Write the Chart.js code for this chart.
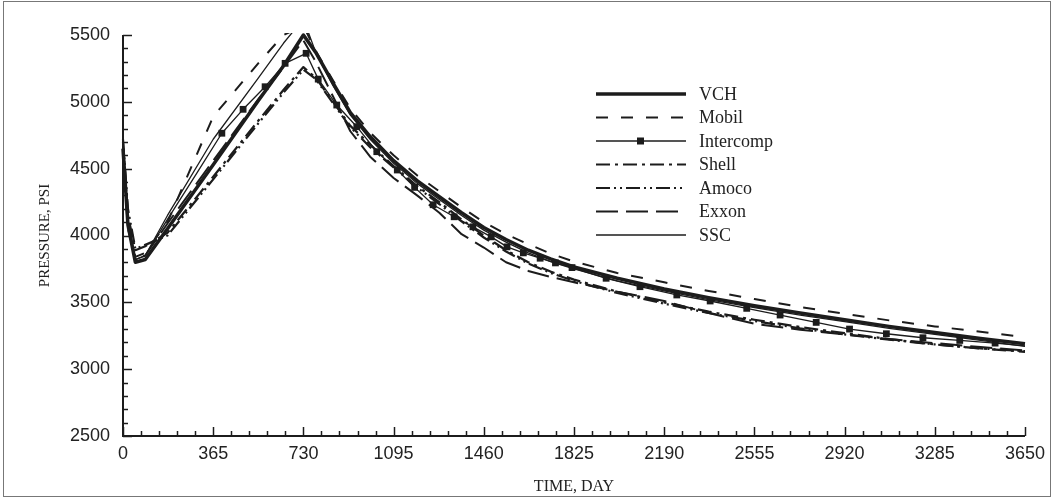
<!DOCTYPE html>
<html>
<head>
<meta charset="utf-8">
<title>Pressure vs time</title>
<script src="https://cdn.jsdelivr.net/npm/chart.js@4.4.1/dist/chart.umd.min.js"></script>
<style>
  html, body { margin: 0; padding: 0; background: #fff; }
</style>
</head>
<body>
<canvas id="chart" width="1054" height="500"></canvas>
<script>
// Pressure (psi), by day
const days = [0, 20, 50, 90, 180, 365, 548, 650, 730, 780, 850, 920, 1000, 1095, 1190, 1280, 1370, 1460, 1550, 1640, 1730, 1825, 2000, 2190, 2370, 2555, 2740, 2920, 3100, 3285, 3470, 3650];

const vch   = [4650, 4080, 3800, 3820, 4050, 4530, 5010, 5270, 5500, 5370, 5140, 4920, 4740, 4560, 4410, 4290, 4170, 4060, 3970, 3890, 3825, 3765, 3680, 3600, 3535, 3475, 3420, 3370, 3320, 3275, 3230, 3190];
const mobil = [4600, 4050, 3840, 3870, 4100, 4890, 5290, 5500, 5570, 5380, 5160, 4950, 4770, 4600, 4450, 4330, 4210, 4100, 4010, 3935, 3865, 3805, 3720, 3650, 3585, 3525, 3465, 3415, 3365, 3320, 3280, 3240];
const shell = [4700, 4150, 3890, 3920, 4020, 4440, 4860, 5090, 5260, 5180, 5000, 4820, 4680, 4520, 4370, 4250, 4120, 4000, 3890, 3800, 3730, 3670, 3580, 3500, 3430, 3370, 3315, 3270, 3225, 3185, 3155, 3130];
const amoco = [4720, 4200, 3900, 3930, 4000, 4420, 4840, 5070, 5240, 5170, 4990, 4810, 4660, 4510, 4360, 4235, 4105, 3985, 3880, 3790, 3720, 3660, 3570, 3490, 3420, 3360, 3305, 3260, 3220, 3185, 3155, 3135];
const exxon = [4650, 4100, 3820, 3850, 4090, 4560, 5020, 5260, 5460, 5300, 5040, 4780, 4590, 4430, 4300, 4170, 4010, 3910, 3800, 3735, 3690, 3650, 3580, 3510, 3420, 3340, 3295, 3260, 3225, 3195, 3165, 3140];
const ssc   = [4640, 4060, 3820, 3850, 4150, 4720, 5180, 5440, 5620, 5370, 5120, 4900, 4720, 4540, 4390, 4270, 4150, 4040, 3950, 3870, 3805, 3750, 3660, 3585, 3520, 3460, 3405, 3355, 3305, 3260, 3215, 3170];

// Intercomp has its own output times (square markers)
const intercompDays = [0, 20, 50, 90, 180, 300, 400, 486, 575, 656, 741, 790, 865, 946, 1027, 1110, 1180, 1255, 1340, 1416, 1490, 1554, 1620, 1688, 1750, 1817, 1955, 2092, 2241, 2376, 2524, 2659, 2805, 2940, 3089, 3237, 3386, 3529, 3650];
const intercomp = [4620, 4070, 3820, 3850, 4120, 4470, 4765, 4944, 5113, 5288, 5363, 5170, 4976, 4814, 4627, 4490, 4360, 4230, 4140, 4065, 3990, 3915, 3870, 3830, 3795, 3760, 3680, 3617, 3555, 3510, 3455, 3405, 3350, 3300, 3265, 3235, 3215, 3195, 3175];

const xTicks = [0, 365, 730, 1095, 1460, 1825, 2190, 2555, 2920, 3285, 3650];
const yTicks = [2500, 3000, 3500, 4000, 4500, 5000, 5500];

const INK = '#1c1c1c';
const pts = (xs, ys) => xs.map((d, i) => ({ x: d, y: ys[i] }));

const line = (label, data, extra = {}) => ({
  label,
  data,
  borderColor: INK,
  backgroundColor: INK,
  borderWidth: 2,
  pointRadius: 0,
  tension: 0,
  borderJoinStyle: 'round',
  clip: { left: 4, top: 2, right: 4, bottom: 4 },
  ...extra
});

// axis lines + inward tick marks + outer frame
const axisDecor = {
  id: 'axisDecor',
  afterDraw(chart) {
    const { ctx, chartArea: a, scales: { x, y } } = chart;
    ctx.save();
    ctx.strokeStyle = INK;
    ctx.lineWidth = 2;
    ctx.beginPath();
    ctx.moveTo(a.left, a.top);
    ctx.lineTo(a.left, a.bottom);
    ctx.lineTo(a.right, a.bottom);
    ctx.stroke();

    ctx.lineWidth = 1.5;
    for (let d = 0; d <= 3650; d += 73) {
      const px = Math.round(x.getPixelForValue(d)) + 0.5;
      const len = d % 365 === 0 ? 9 : 5;
      ctx.beginPath();
      ctx.moveTo(px, a.bottom);
      ctx.lineTo(px, a.bottom - len);
      ctx.stroke();
    }
    for (let p = 2500; p <= 5500; p += 100) {
      const py = Math.round(y.getPixelForValue(p)) + 0.5;
      const len = p % 500 === 0 ? 9 : 5;
      ctx.beginPath();
      ctx.moveTo(a.left, py);
      ctx.lineTo(a.left + len, py);
      ctx.stroke();
    }

    ctx.strokeStyle = '#777';
    ctx.lineWidth = 1;
    ctx.strokeRect(3.5, 1.5, 1047, 495);
    ctx.restore();
  }
};

// legend drawn inside the plot, upper right
const insideLegend = {
  id: 'insideLegend',
  afterDraw(chart) {
    const { ctx } = chart;
    const x0 = 596, x1 = 686, tx = 699, top = 94, step = 23.5;
    ctx.save();
    ctx.font = '18px "Liberation Serif", "Times New Roman", serif';
    ctx.textBaseline = 'middle';
    chart.data.datasets.forEach((ds, i) => {
      const yy = top + i * step;
      ctx.strokeStyle = INK;
      ctx.lineWidth = ds.borderWidth;
      ctx.setLineDash(ds.borderDash || []);
      ctx.beginPath();
      ctx.moveTo(x0, yy);
      ctx.lineTo(x1, yy);
      ctx.stroke();
      ctx.setLineDash([]);
      if (ds.label === 'Intercomp') {
        ctx.fillStyle = INK;
        ctx.fillRect(637, yy - 3.5, 7, 7);
      }
      ctx.fillStyle = '#222';
      ctx.fillText(ds.label, tx, yy + 1);
    });
    ctx.restore();
  }
};

new Chart(document.getElementById('chart'), {
  type: 'line',
  data: {
    datasets: [
      line('VCH', pts(days, vch), { borderWidth: 3.5 }),
      line('Mobil', pts(days, mobil), { borderDash: [12, 13] }),
      line('Intercomp', pts(intercompDays, intercomp), {
        borderWidth: 1.3,
        pointStyle: 'rect',
        pointRadius: c => (c.raw && c.raw.x >= 400 && c.raw.x < 3650 ? 4.8 : 0),
        pointBorderWidth: 0
      }),
      line('Shell', pts(days, shell), { borderWidth: 2.2, borderDash: [14, 5, 3, 5] }),
      line('Amoco', pts(days, amoco), { borderWidth: 2.2, borderDash: [14, 4, 2, 4, 2, 4] }),
      line('Exxon', pts(days, exxon), { borderDash: [22, 8] }),
      line('SSC', pts(days, ssc), { borderWidth: 1.3 })
    ]
  },
  options: {
    responsive: false,
    animation: false,
    devicePixelRatio: 1,
    layout: { padding: { left: 0, top: 35, right: 29, bottom: 0 } },
    plugins: {
      legend: { display: false },
      tooltip: { enabled: false }
    },
    scales: {
      x: {
        type: 'linear',
        min: 0,
        max: 3650,
        afterBuildTicks: s => { s.ticks = xTicks.map(v => ({ value: v })); },
        afterFit: s => { s.height = 64; },
        grid: { display: false, drawTicks: false },
        border: { display: false },
        ticks: {
          color: '#222',
          padding: 7,
          maxRotation: 0,
          callback: v => String(v),
          font: { family: '"Liberation Sans", Arial, sans-serif', size: 18 }
        },
        title: {
          display: true,
          text: 'TIME, DAY',
          color: '#222',
          padding: { top: 0, bottom: 4 },
          font: { family: '"Liberation Serif", "Times New Roman", serif', size: 16 }
        }
      },
      y: {
        min: 2500,
        max: 5500,
        afterBuildTicks: s => { s.ticks = yTicks.map(v => ({ value: v })); },
        afterFit: s => { s.width = 123; },
        grid: { display: false, drawTicks: false },
        border: { display: false },
        ticks: {
          color: '#222',
          padding: 13,
          callback: v => String(v),
          font: { family: '"Liberation Sans", Arial, sans-serif', size: 18 }
        },
        title: {
          display: true,
          text: 'PRESSURE, PSI',
          color: '#222',
          padding: { top: 36, bottom: 0 },
          font: { family: '"Liberation Serif", "Times New Roman", serif', size: 15 }
        }
      }
    }
  },
  plugins: [axisDecor, insideLegend]
});
</script>
</body>
</html>
